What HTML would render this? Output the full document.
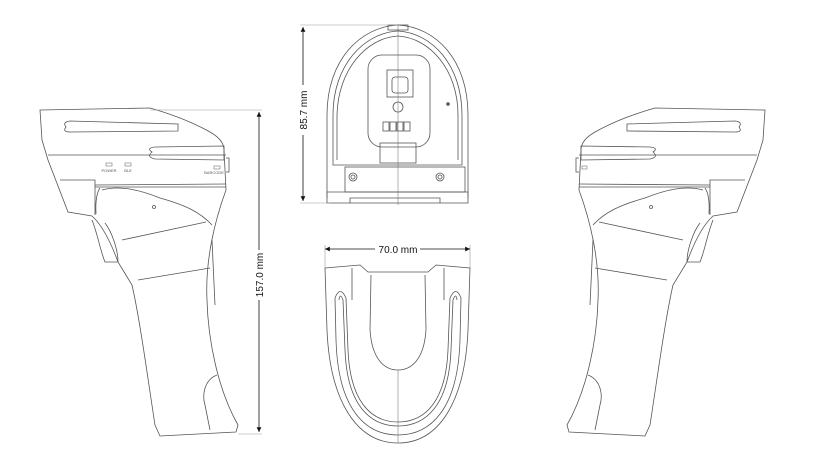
<!DOCTYPE html>
<html><head><meta charset="utf-8"><style>
html,body{margin:0;padding:0;background:#fff;}
svg{display:block;}
text{font-family:"Liberation Sans",sans-serif;}
</style></head><body>
<svg width="837" height="469" viewBox="0 0 837 469" xmlns="http://www.w3.org/2000/svg">
<defs>
<marker id="ar" viewBox="0 0 10 10" refX="10" refY="5" markerWidth="8" markerHeight="6" orient="auto-start-reverse"><path d="M0,0 L10,5 L0,10 z" fill="#111"/></marker>
<g id="side" fill="none" stroke="#555" stroke-width="0.8">
<path d="M40,110 L150,108 Q185,118 210,132 Q224,140 224,150 L226,190 C215,220 205,260 207,300 C208,340 218,390 238,425 L236,432 L160,436 L155,425 C148,380 140,320 132,285 L118,262 C110,240 102,225 92,216 L68,212 L48,160 L42,140 Z"/>
<path d="M66,127 Q62,122 70,121 L178,124 L178,131 L70,132 Q62,132 66,127 Z"/>
<path d="M152,152 Q146,148 155,147 L224,146 L224,160 L155,159 Q146,157 152,152 Z"/>
<path d="M48,155 L226,155"/>
<path d="M95,185 L226,184"/>
<path d="M95,187 L226,187"/>
<path d="M60,180 L95,180 L95,215"/>
<path d="M100,188 Q95,195 96,214"/>
<path d="M102,190 C120,185 140,190 160,198 C185,205 200,212 212,225"/>
<path d="M122,240 L206,222"/>
<path d="M138,280 L210,268"/>
<path d="M212,240 L215,305"/>
<path d="M217,375 C204,380 202,395 205,405 L210,430"/>
<path d="M105,223 C112,232 118,250 118,262 L105,262 C100,250 98,235 92,220"/>
<circle cx="154" cy="207" r="1.5"/>
<path d="M226,158 L229,158 L229,172 L226,172"/>
</g>
</defs>

<!-- left side view -->
<use href="#side"/>
<g fill="none" stroke="#777" stroke-width="0.6">
<rect x="106" y="163" width="6" height="3"/><rect x="125" y="163" width="6" height="3"/><rect x="214" y="166" width="6" height="3"/>
</g>
<text x="109" y="172" font-size="4" text-anchor="middle" fill="#555">POWER</text>
<text x="128" y="172" font-size="4" text-anchor="middle" fill="#555">BLE</text>
<text x="214" y="174" font-size="4" text-anchor="middle" fill="#555">BARCODE</text>

<!-- right side view mirrored -->
<g transform="translate(805,0) scale(-1,1)"><use href="#side"/></g>
<rect x="582" y="166" width="5" height="3" fill="none" stroke="#777" stroke-width="0.6"/>

<!-- 157 dimension -->
<g stroke="#999" stroke-width="0.6"><line x1="150" y1="110" x2="262" y2="110"/><line x1="238" y1="434" x2="262" y2="434"/></g>
<line x1="259" y1="112" x2="259" y2="250" stroke="#111" stroke-width="0.8" marker-start="url(#ar)"/>
<line x1="259" y1="300" x2="259" y2="432" stroke="#111" stroke-width="0.8" marker-end="url(#ar)"/>
<text transform="translate(263,275) rotate(-90)" font-size="10" text-anchor="middle" fill="#111">157.0 mm</text>

<!-- top center view -->
<g fill="none" stroke="#555" stroke-width="0.8">
<path d="M327,198 L327,115 C327,60 360,27 398,25 C436,27 468,60 468,115 L468,198"/>
<path d="M333,165 L333,115 C333,65 364,33 398,31 C432,33 462,65 462,115 L462,165 Z"/>
<path d="M337,160 L337,115 C338,70 366,38 398,36 C430,38 458,70 458,115 L458,160"/>
<rect x="388" y="25" width="20" height="5"/>
<rect x="368" y="55" width="62" height="92" rx="14"/>
<rect x="387" y="70" width="26" height="27"/>
<rect x="392" y="77" width="16" height="16" rx="3"/>
<circle cx="398" cy="107" r="5"/>
<rect x="383" y="122" width="6" height="9"/><rect x="390" y="122" width="6" height="9"/><rect x="397" y="122" width="6" height="9"/><rect x="404" y="122" width="6" height="9"/>
<rect x="380" y="143" width="36" height="20"/>
<rect x="345" y="167" width="120" height="25"/>
<circle cx="353" cy="177" r="4"/><circle cx="353" cy="177" r="2"/>
<circle cx="440" cy="177" r="4"/><circle cx="440" cy="177" r="2"/>
<path d="M327,192 L468,192 L468,203 L327,203 Z"/>
<path d="M350,203 L350,198 L440,198 L440,203"/>
</g>
<circle cx="448" cy="104" r="1.8" fill="#555"/>
<line x1="398" y1="25" x2="398" y2="205" stroke="#666" stroke-width="0.5"/>
<g stroke="#999" stroke-width="0.6"><line x1="300" y1="25" x2="398" y2="25"/><line x1="300" y1="203" x2="330" y2="203"/></g>
<line x1="303" y1="27" x2="303" y2="85" stroke="#111" stroke-width="0.8" marker-start="url(#ar)"/>
<line x1="303" y1="135" x2="303" y2="201" stroke="#111" stroke-width="0.8" marker-end="url(#ar)"/>
<text transform="translate(307,110) rotate(-90)" font-size="10" text-anchor="middle" fill="#111">85.7 mm</text>

<!-- bottom center view -->
<g fill="none" stroke="#555" stroke-width="0.8">
<path d="M325,268 L360,265 L368,272 L428,272 L436,265 L470,268 L468,330 C465,400 440,443 398,443 C356,443 330,400 327,330 Z"/>
<path d="M335,298 Q340,285 346,298 L348,350 C350,400 370,422 398,422 C426,422 446,400 448,350 L450,298 Q456,285 461,298 L460,340 C458,410 430,435 398,435 C366,435 338,410 336,340 Z"/>
<path d="M339,300 Q340,292 343,300 L345,350 C347,405 370,426 398,426 C426,426 449,405 451,350 L453,300 Q456,292 457,300"/>
<path d="M371,275 L370,330 C372,360 385,370 398,370 C411,370 424,360 426,330 L425,275"/>
<path d="M352,268 L352,300 M444,268 L444,300"/>
</g>
<line x1="398" y1="370" x2="398" y2="443" stroke="#666" stroke-width="0.5"/>
<g stroke="#999" stroke-width="0.6"><line x1="325" y1="245" x2="325" y2="268"/><line x1="470" y1="245" x2="470" y2="268"/></g>
<line x1="375" y1="249" x2="325" y2="249" stroke="#111" stroke-width="0.8" marker-end="url(#ar)"/>
<line x1="420" y1="249" x2="470" y2="249" stroke="#111" stroke-width="0.8" marker-end="url(#ar)"/>
<text x="398" y="253" font-size="10" text-anchor="middle" fill="#111">70.0 mm</text>
</svg>
</body></html>
